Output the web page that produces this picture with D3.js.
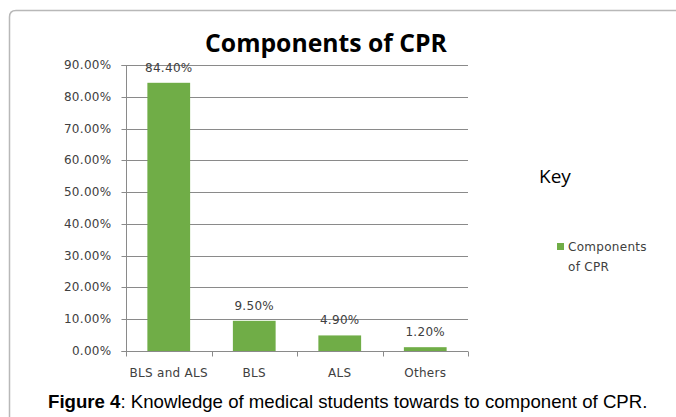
<!DOCTYPE html>
<html><head><meta charset="utf-8">
<script src="https://cdn.jsdelivr.net/npm/d3@7"></script>
<style>html,body{margin:0;padding:0;background:#fff;}svg{display:block;}</style>
</head><body>
<svg id="c" width="676" height="417"></svg>
<script>
const categories = ["BLS and ALS", "BLS", "ALS", "Others"];
const values = [84.40, 9.50, 4.90, 1.20];
const yTicks = [0, 10, 20, 30, 40, 50, 60, 70, 80, 90];
const seriesName = ["Components", "of CPR"];
const titleText = "Components of CPR";
const keyText = "Key";

(function () {
const svg = d3.select("#c");
const green = "#70AD47";
const gridCol = "#8a8a8a";
const textCol = "#404040";
const lblFont = "DejaVu Sans", lblSize = "12px", lblSp = "0.3px";

// outer frame
svg.append("path")
  .attr("d", "M9.5,420 L9.5,17 Q9.5,10.5 16,10.5 L680,10.5")
  .attr("fill", "none").attr("stroke", "#b8b8b8").attr("stroke-width", 1.5);

const pLeft = 126, pRight = 468, pTop = 65, pBottom = 351;
const x = d3.scaleBand().domain(categories).range([pLeft, pRight]).paddingInner(0.5).paddingOuter(0.25);
const y = d3.scaleLinear().domain([0, 90]).range([pBottom, pTop]);

// gridlines
svg.append("g").selectAll("line").data(yTicks.filter(d => d > 0)).join("line")
  .attr("x1", pLeft).attr("x2", pRight)
  .attr("y1", d => Math.round(y(d)) + 0.5).attr("y2", d => Math.round(y(d)) + 0.5)
  .attr("stroke", gridCol).attr("stroke-width", 1);

// y axis
const yAxis = d3.axisLeft(y).tickValues(yTicks).tickSize(5).tickPadding(10)
  .tickFormat(d => d3.format(".2f")(d) + "%");
const gy = svg.append("g").attr("transform", `translate(${pLeft + 0.5},0.5)`).call(yAxis);
gy.select(".domain").attr("stroke", gridCol).attr("d", `M-5,${Math.round(y(90))}H0V${Math.round(y(0))}H-5`);
gy.selectAll(".tick line").attr("stroke", gridCol);
gy.selectAll(".tick").attr("transform", d => `translate(0,${Math.round(y(d))})`);
gy.selectAll("text").attr("fill", textCol).style("font-family", lblFont).style("font-size", lblSize).style("letter-spacing", lblSp);

// bars
svg.append("g").selectAll("rect").data(values).join("rect")
  .attr("x", (d, i) => x(categories[i]))
  .attr("y", d => y(d))
  .attr("width", x.bandwidth())
  .attr("height", d => y(0) - y(d))
  .attr("fill", green);

// x axis
const xb = d3.scaleLinear().domain([0, categories.length]).range([pLeft, pRight]);
const gx = svg.append("g").attr("transform", `translate(0,${Math.round(pBottom) + 0.5})`);
gx.append("line").attr("x1", pLeft).attr("x2", pRight).attr("stroke", gridCol);
gx.selectAll("line.t").data(d3.range(categories.length + 1)).join("line").attr("class", "t")
  .attr("x1", d => Math.round(xb(d)) + 0.5).attr("x2", d => Math.round(xb(d)) + 0.5)
  .attr("y1", 0).attr("y2", 5).attr("stroke", gridCol);
gx.selectAll("text").data(categories).join("text")
  .attr("x", d => x(d) + x.bandwidth() / 2).attr("y", 25)
  .attr("text-anchor", "middle").attr("fill", textCol)
  .style("font-family", lblFont).style("font-size", lblSize).style("letter-spacing", lblSp).text(d => d);

// data labels
svg.append("g").selectAll("text").data(values).join("text")
  .attr("x", (d, i) => x(categories[i]) + x.bandwidth() / 2)
  .attr("y", d => y(d) - 11)
  .attr("text-anchor", "middle").attr("fill", textCol)
  .style("font-family", lblFont).style("font-size", lblSize).style("letter-spacing", lblSp)
  .text(d => d3.format(".2f")(d) + "%");

// title
const t = svg.append("text").attr("x", 326).attr("y", 52).attr("text-anchor", "middle")
  .style("font-family", "Open Sans").style("font-weight", "bold").style("font-size", "22px")
  .attr("fill", "#000").text(titleText);
const tw = t.node().getComputedTextLength();
t.style("font-size", (22 * 242 / tw) + "px");

// key
svg.append("text").attr("x", 539).attr("y", 183)
  .style("font-family", "Open Sans").style("font-size", "19px").attr("fill", "#000").text(keyText);
svg.append("rect").attr("x", 557).attr("y", 243).attr("width", 7).attr("height", 7).attr("fill", green);
svg.append("g").selectAll("text").data(seriesName).join("text")
  .attr("x", 568).attr("y", (d, i) => 251 + i * 19.5)
  .attr("fill", textCol).style("font-family", lblFont).style("font-size", lblSize).style("letter-spacing", lblSp)
  .text(d => d);

// caption
const cap = svg.append("text").attr("x", 48).attr("y", 408)
  .style("font-family", "Liberation Sans").style("font-size", "16px").attr("fill", "#000");
cap.append("tspan").style("font-weight", "bold").text("Figure 4");
cap.append("tspan").text(": Knowledge of medical students towards to component of CPR.");
const cw = cap.node().getComputedTextLength();
cap.style("font-size", (16 * 600 / cw) + "px");
})();
</script>
</body></html>
